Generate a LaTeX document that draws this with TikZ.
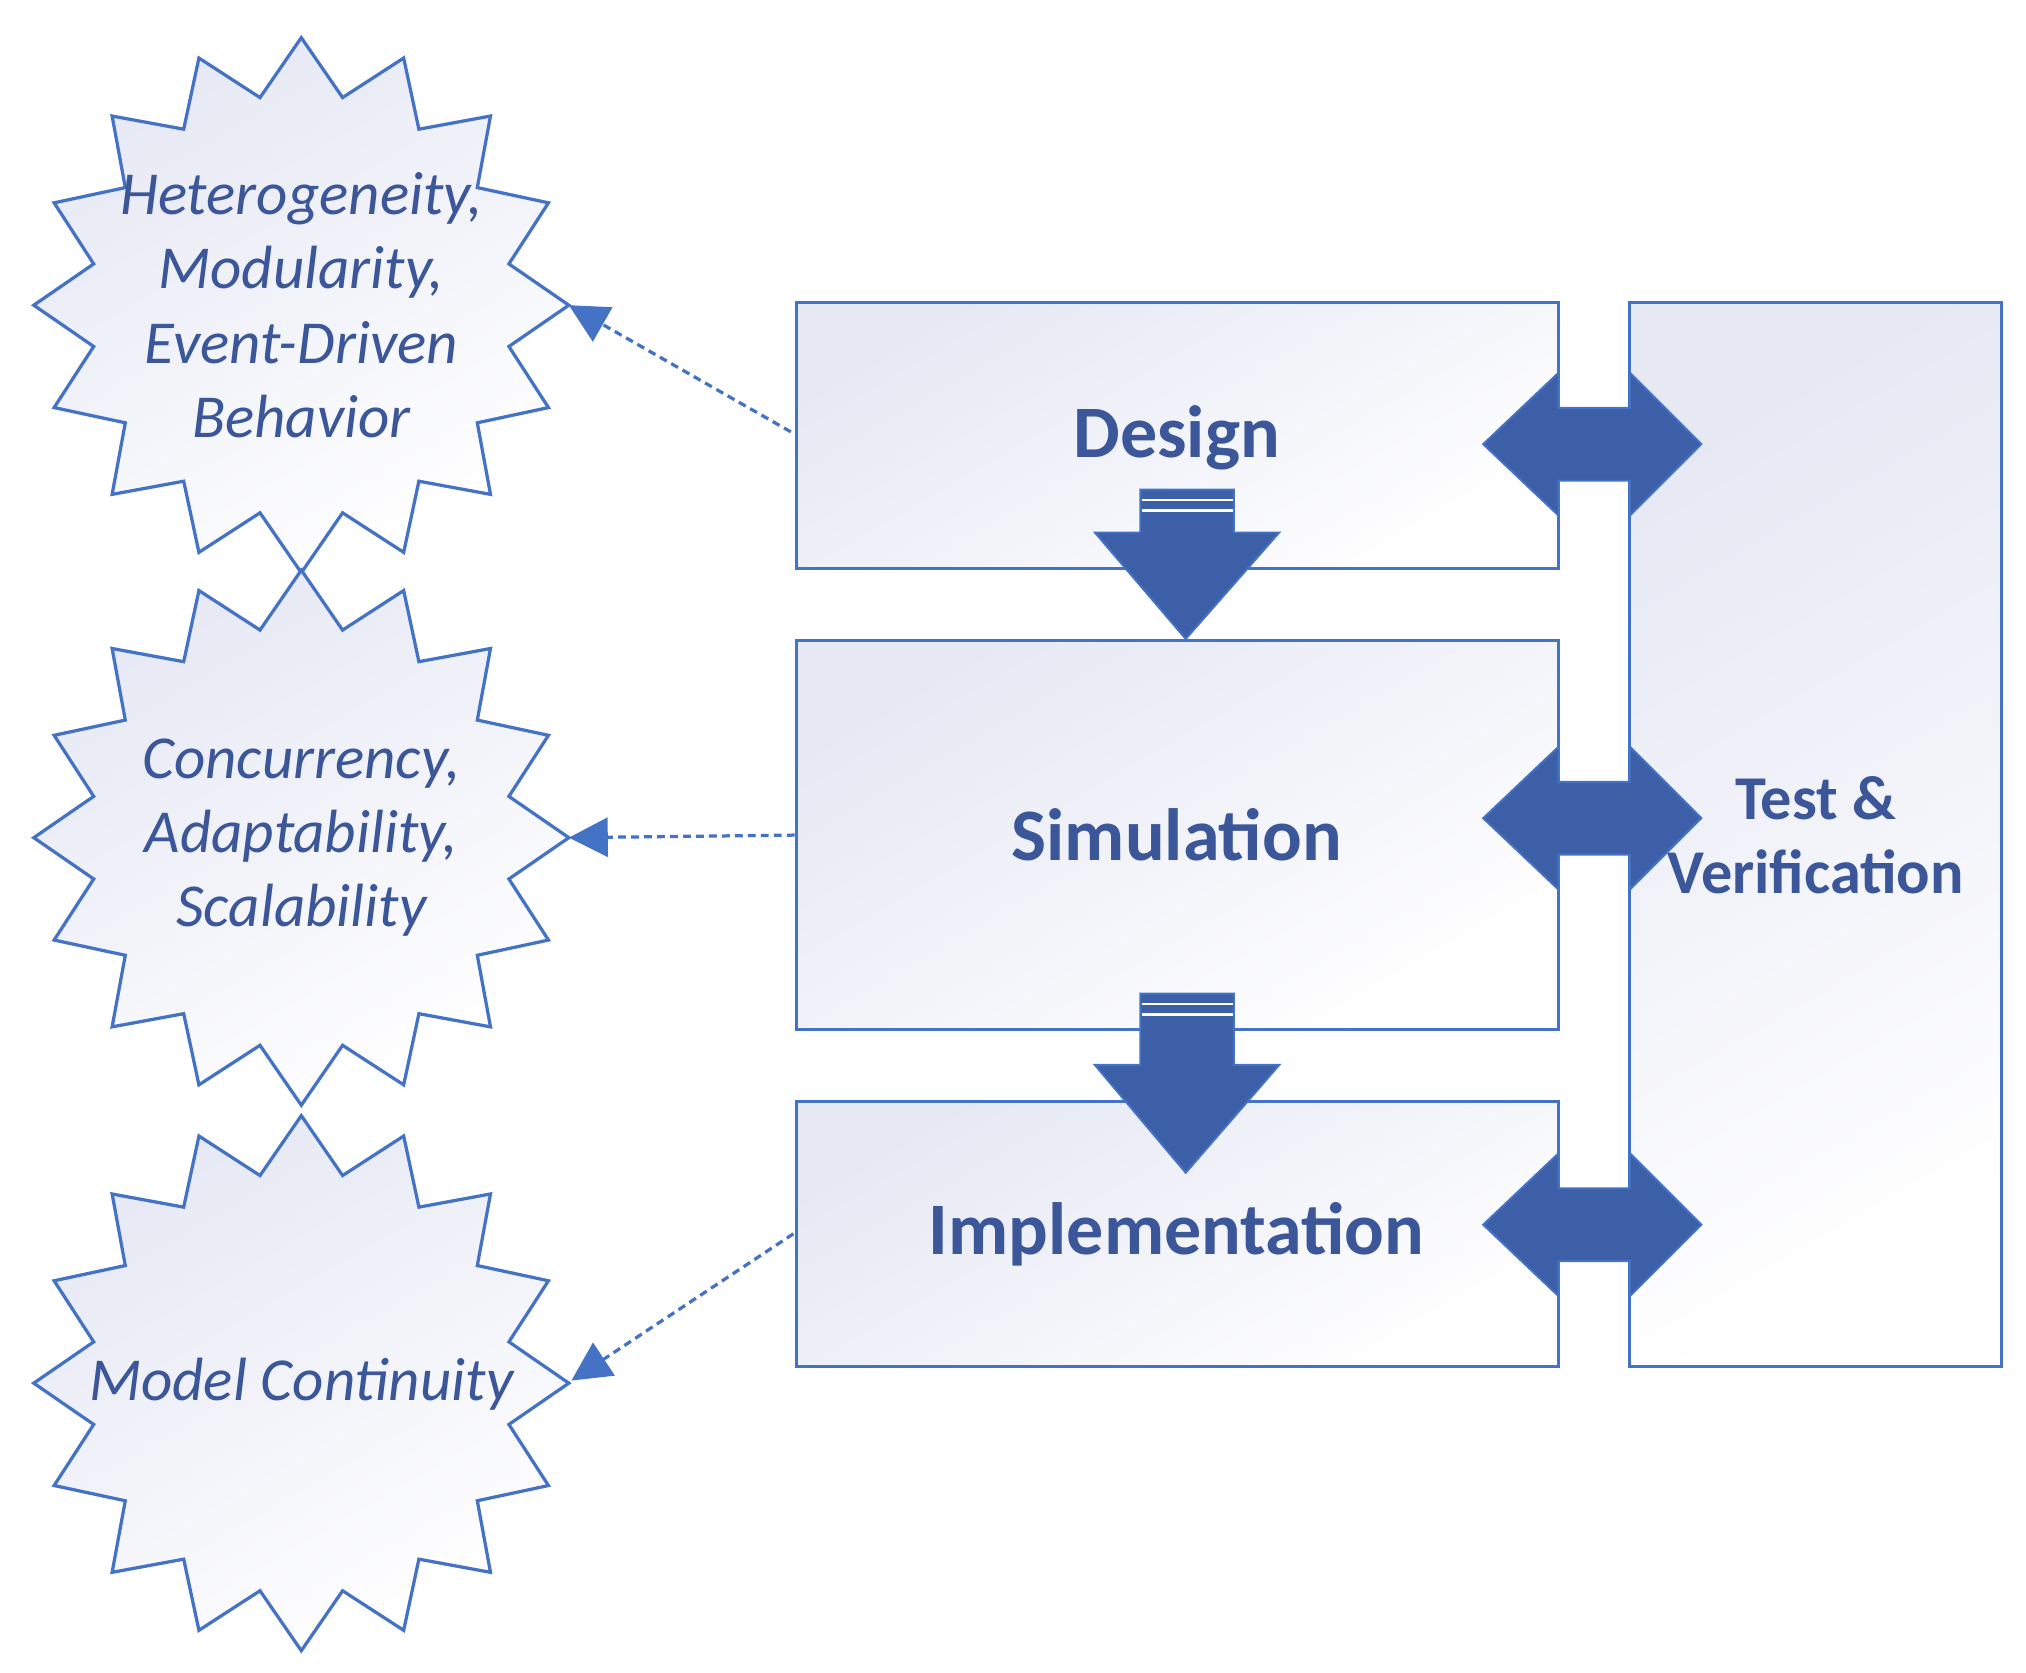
\documentclass[tikz,border=0pt]{standalone}
\usepackage{fontspec}
\setmainfont{Carlito}
\usetikzlibrary{calc,arrows.meta}
\definecolor{ln}{HTML}{4472C4}
\definecolor{dk}{HTML}{3D5FA8}
\definecolor{tx}{HTML}{3B5699}
\definecolor{lav}{HTML}{E6E8F4}
\begin{document}
\begin{tikzpicture}[x=1pt,y=-1pt,
 box/.style={draw=ln,line width=2.2pt,top color=lav,bottom color=white,shading angle=30,inner sep=0pt},
 lbl/.style={text=tx,font=\fontsize{57}{60}\selectfont\bfseries},
 starsty/.style={draw=ln,line width=2.5pt,top color=lav,bottom color=white,shading angle=30},
 startxt/.style={text=tx,font=\fontsize{47}{57}\selectfont\itshape,align=center},
 dot/.style={draw=ln,line width=2.5pt,dash pattern=on 6pt off 4pt,-{Triangle[length=30pt,width=30pt]}},
 big/.style={fill=dk,draw=ln,line width=1.5pt,line join=miter}]
\useasboundingbox (0,0) rectangle (1560,1288);
% stars
\foreach \n/\cy in {s1/235,s2/645,s3/1065}{
 \coordinate (\n) at (232,\cy);
 \draw[starsty] ($(\n)+(90:206)$) foreach \i in {1,...,15}{ -- ($(\n)+(90+\i*22.5-11.25:163)$) -- ($(\n)+(90+\i*22.5:206)$)} -- ($(\n)+(90+16*22.5-11.25:163)$) -- cycle;
 \coordinate (\n r) at ($(\n)+(206,0)$);
}
\node[startxt] (t1) at (232,235) {Heterogeneity,\\Modularity,\\Event-Driven\\Behavior};
\node[startxt] (t2) at (232,645) {Concurrency,\\Adaptability,\\Scalability};
\node[startxt] (t3) at (232,1066) {Model Continuity};
% boxes
\node[box,minimum width=587pt,minimum height=205pt] (design) at (906.5,335.5) {};
\node[box,minimum width=587pt,minimum height=300pt] (sim) at (906.5,643) {};
\node[box,minimum width=587pt,minimum height=204pt] (impl) at (906.5,950) {};
\node[box,minimum width=286pt,minimum height=819pt] (test) at (1398,642.5) {};
\node[lbl] (ld) at (906,337) {Design};
\node[lbl] (ls) at (906,643) {Simulation};
\node[lbl] (li) at (906,950) {Implementation};
\node[text=tx,font=\fontsize{48}{57}\selectfont\bfseries,align=center] (lt) at (1398,643) {Test \&\\Verification};
% down arrows
\foreach \a/\b/\c in {377/410/492,765/820/903}{
 \path[big] (878,\a) -- (950,\a) -- (950,\b) -- (985,\b) -- (913,\c) -- (843,\b) -- (878,\b) -- cycle;
 \draw[white,line width=2pt] (879,\a+8) -- (949,\a+8) (879,\a+16) -- (949,\a+16);
}
% double arrows
\foreach \y in {342,630,943}{
 \path[big] (1142,\y) -- (1200,\y-55) -- (1200,\y-28) -- (1255,\y-28) -- (1255,\y-55) -- (1310,\y) -- (1255,\y+55) -- (1255,\y+28) -- (1200,\y+28) -- (1200,\y+55) -- cycle;
}
% dotted connectors
\draw[dot] ($(design.west)+(-3,-3)$) -- (s1r);
\draw[dot] (sim.west) -- (s2r);
\draw[dot] ($(impl.west)+(-1,0)$) -- ($(s3r)+(2,-2)$);
\end{tikzpicture}
\end{document}
